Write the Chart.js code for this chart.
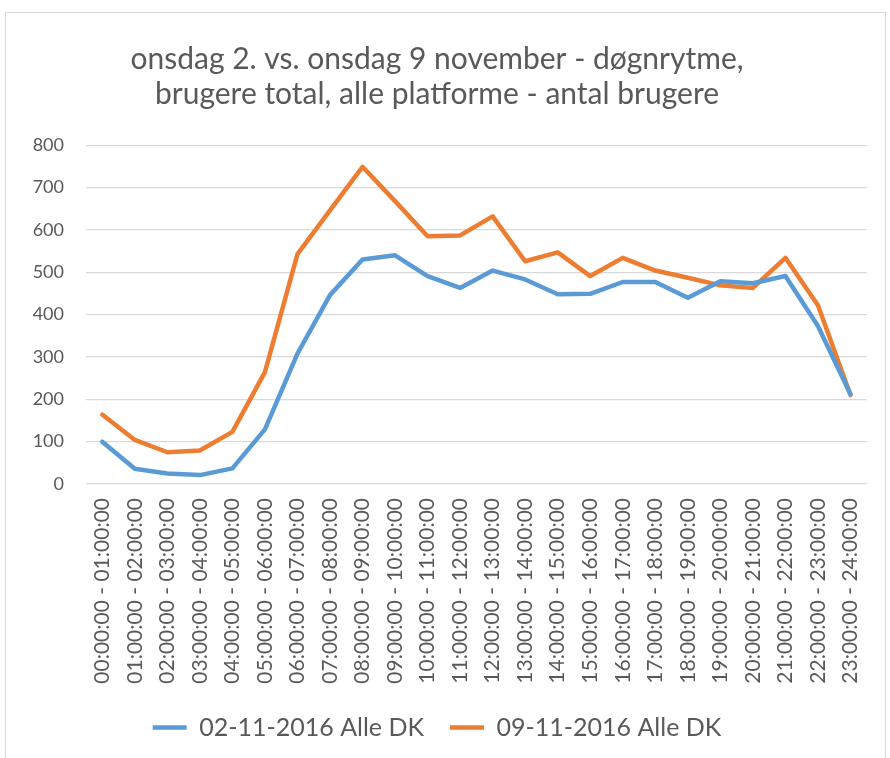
<!DOCTYPE html>
<html>
<head>
<meta charset="utf-8">
<script src="https://cdn.jsdelivr.net/npm/chart.js@4/dist/chart.umd.min.js"></script>
<style>
    html, body { margin: 0; padding: 0; background: #fff; }
    #wrap { position: relative; width: 890px; height: 758px; overflow: hidden; }
    #frame { position: absolute; left: 5px; top: 12px; width: 879px; height: 760px; border: 1px solid #d9d9d9; }
    canvas { position: absolute; left: 0; top: 0; }
</style>
</head>
<body>
<div id="wrap">
    <div id="frame"></div>
    <canvas id="chart" width="890" height="758"></canvas>
</div>
<script>
// hour intervals
const hours = [
    '00:00:00 - 01:00:00', '01:00:00 - 02:00:00', '02:00:00 - 03:00:00', '03:00:00 - 04:00:00',
    '04:00:00 - 05:00:00', '05:00:00 - 06:00:00', '06:00:00 - 07:00:00', '07:00:00 - 08:00:00',
    '08:00:00 - 09:00:00', '09:00:00 - 10:00:00', '10:00:00 - 11:00:00', '11:00:00 - 12:00:00',
    '12:00:00 - 13:00:00', '13:00:00 - 14:00:00', '14:00:00 - 15:00:00', '15:00:00 - 16:00:00',
    '16:00:00 - 17:00:00', '17:00:00 - 18:00:00', '18:00:00 - 19:00:00', '19:00:00 - 20:00:00',
    '20:00:00 - 21:00:00', '21:00:00 - 22:00:00', '22:00:00 - 23:00:00', '23:00:00 - 24:00:00'
];

const users0211 = [100, 36, 25, 21, 37, 129, 308, 446, 530, 540, 491, 463,
                   504, 483, 448, 449, 477, 477, 440, 479, 474, 491, 373, 212];
const users0911 = [164, 104, 75, 79, 123, 264, 543, 646, 749, 668, 585, 587,
                   632, 526, 547, 491, 534, 504, 487, 469, 463, 534, 422, 210];

const yTicks = [0, 100, 200, 300, 400, 500, 600, 700, 800];

const font = 'Lato, "Open Sans", sans-serif';
const grey = '#595959';

new Chart(document.getElementById('chart'), {
    type: 'line',
    data: {
        labels: hours,
        datasets: [{
                label: '02-11-2016 Alle DK',
                data: users0211,
                borderColor: '#5b9bd5',
                backgroundColor: '#5b9bd5',
                borderWidth: 4.5,
                pointRadius: 0,
                borderCapStyle: 'round',
                borderJoinStyle: 'round',
                tension: 0
            },
            {
                label: '09-11-2016 Alle DK',
                data: users0911,
                borderColor: '#ed7d31',
                backgroundColor: '#ed7d31',
                borderWidth: 4.5,
                pointRadius: 0,
                borderCapStyle: 'round',
                borderJoinStyle: 'round',
                tension: 0
            }
        ]
    },
    options: {
        responsive: false,
        animation: false,
        layout: {
            padding: { left: 0, right: 16, top: 0, bottom: 8 }
        },
        plugins: {
            title: {
                display: true,
                text: ['onsdag 2. vs. onsdag 9 november - døgnrytme,', 'brugere total, alle platforme - antal brugere'],
                color: grey,
                font: { family: font, size: 30, weight: 'normal', lineHeight: 1.17 },
                padding: { top: 42, bottom: 33 }
            },
            legend: {
                position: 'bottom',
                labels: {
                    color: grey,
                    font: { family: font, size: 25 },
                    usePointStyle: true,
                    pointStyle: 'line',
                    pointStyleWidth: 34,
                    boxHeight: 10,
                    padding: 26
                }
            },
            tooltip: { enabled: false }
        },
        scales: {
            x: {
                offset: true,
                grid: { display: false, drawTicks: false },
                border: { display: false },
                ticks: {
                    color: grey,
                    font: { family: font, size: 21 },
                    minRotation: 90,
                    maxRotation: 90,
                    autoSkip: false,
                    padding: 14
                },
                afterFit: s => { s.height = 205; }
            },
            y: {
                min: 0,
                max: 800,
                afterBuildTicks: s => { s.ticks = yTicks.map(v => ({ value: v })); },
                grid: { color: '#d9d9d9', lineWidth: 1.3, drawTicks: false },
                border: { display: false },
                ticks: {
                    color: grey,
                    font: { family: font, size: 18 },
                    padding: 22
                },
                afterFit: s => { s.width = 86; }
            }
        }
    }
});
</script>
</body>
</html>
